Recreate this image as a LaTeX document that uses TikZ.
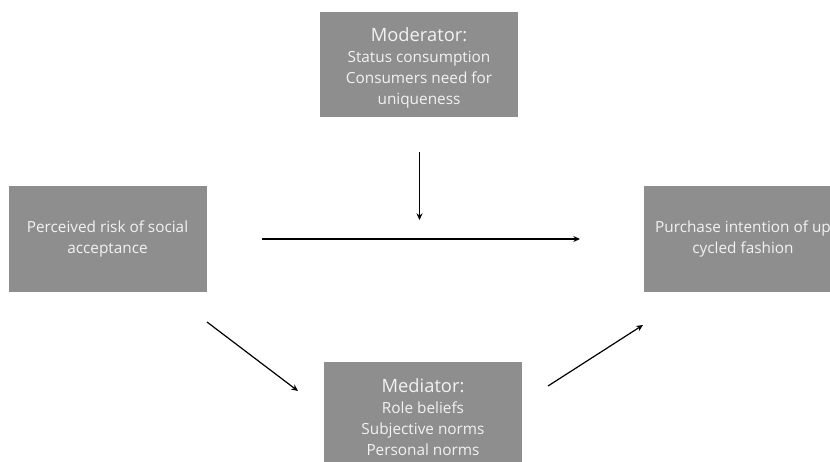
\documentclass[tikz,border=0pt]{standalone}
\usepackage{fontspec}
\setmainfont{Open Sans}
\usetikzlibrary{arrows.meta}
\definecolor{boxgray}{HTML}{8E8E8E}
\definecolor{boxtext}{HTML}{F2F2F2}
\tikzset{every picture/.style={line width=0.75pt}}
\tikzset{
  greybox/.style={fill=boxgray,text=boxtext,minimum width=148.5pt,minimum height=79pt,inner sep=0pt,align=center,font=\fontsize{11.5}{15.75}\selectfont},
  arr/.style={line width=0.9pt,-{Stealth[length=5pt,width=4.5pt]}}
}

\begin{document}
\begin{tikzpicture}[x=0.75pt,y=0.75pt,yscale=-1,xscale=1]
\useasboundingbox (0,0) rectangle (830,461);
\clip (0,0) rectangle (830,461);

%Shape: Rectangle [id:moderator]
\node [greybox] (moderator) at (419,64.5) {};
% Text Node
\node [text=boxtext,align=center,font=\fontsize{11.5}{15.75}\selectfont] (modtext) at (419,67.5) {{\fontsize{13.75}{15.75}\selectfont Moderator:}\\Status consumption\\Consumers need for\\uniqueness};
%Shape: Rectangle [id:risk]
\node [greybox] (risk) at (107.5,239) {Perceived risk of social\\acceptance};
%Shape: Rectangle [id:intention]
\node [greybox] (intention) at (743,239) {Purchase intention of up\\cycled fashion};
%Shape: Rectangle [id:mediator]
\node [greybox] (mediator) at (423,414.5) {};
% Text Node
\node [text=boxtext,align=center,font=\fontsize{11.5}{15.75}\selectfont] (medtext) at (423,417.5) {{\fontsize{13.75}{15.75}\selectfont Mediator:}\\Role beliefs\\Subjective norms\\Personal norms};

% arrow ends
\coordinate (modtop) at (419.5,152);
\coordinate (modend) at (419.5,220);
\coordinate (mainstart) at (262,239);
\coordinate (mainend) at (580,239);
\coordinate (medin1) at (207,322);
\coordinate (medin2) at (298,391);
\coordinate (medout1) at (548,386);
\coordinate (medout2) at (643,325);

\draw [arr] (modtop) -- (modend);
\draw [arr] (mainstart) -- (mainend);
\draw [arr] (medin1) -- (medin2);
\draw [arr] (medout1) -- (medout2);

\end{tikzpicture}
\end{document}
